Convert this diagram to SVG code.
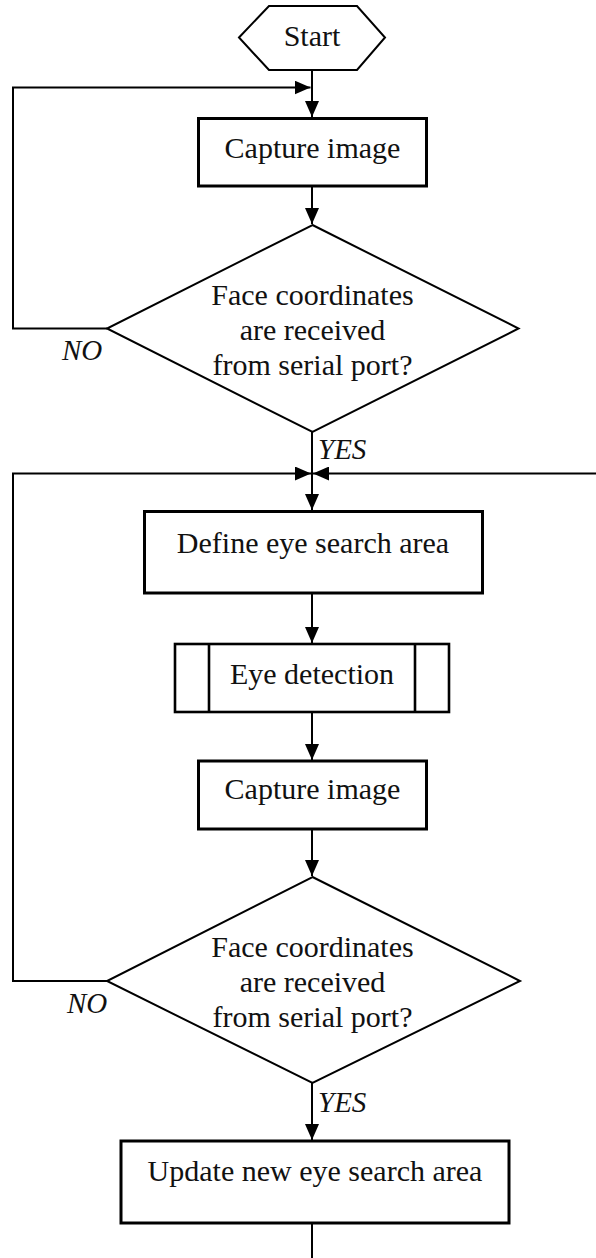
<svg xmlns="http://www.w3.org/2000/svg" width="596" height="1258" viewBox="0 0 596 1258">
<style>
.bg{fill:#fff}
.box{fill:#fff;stroke:#000;stroke-width:3}
.thin{fill:#fff;stroke:#000;stroke-width:2}
.sub{fill:#fff;stroke:#000;stroke-width:2.6}
.con{fill:none;stroke:#000;stroke-width:2}
.t{font-family:"Liberation Serif","Times New Roman",serif;font-size:30px;fill:#111;text-anchor:middle}
.lbl{font-family:"Liberation Serif","Times New Roman",serif;font-size:29px;font-style:italic;fill:#111}
</style>
<defs>
<marker id="ah" viewBox="0 0 16 14" refX="16" refY="7" markerWidth="16" markerHeight="14" markerUnits="userSpaceOnUse" orient="auto">
<path d="M0,0 L16,7 L0,14 Z" fill="#000"/>
</marker>
</defs>
<rect class="bg" x="0" y="0" width="596" height="1258"/>
<g id="connectors">
<path class="con" d="M312,70 V117" marker-end="url(#ah)"/>
<path class="con" d="M107,328.5 H13 V87.5 H310.5" marker-end="url(#ah)"/>
<path class="con" d="M312,186 V224" marker-end="url(#ah)"/>
<path class="con" d="M312,432 V510" marker-end="url(#ah)"/>
<path class="con" d="M107,981 H13 V473.5 H311" marker-end="url(#ah)"/>
<path class="con" d="M596,473.5 H313" marker-end="url(#ah)"/>
<path class="con" d="M312,593 V643" marker-end="url(#ah)"/>
<path class="con" d="M312,712 V760" marker-end="url(#ah)"/>
<path class="con" d="M312,829 V876" marker-end="url(#ah)"/>
<path class="con" d="M312,1083 V1140" marker-end="url(#ah)"/>
<path class="con" d="M312,1223 V1258"/>
<text class="lbl" x="62" y="360">NO</text>
<text class="lbl" x="318" y="459">YES</text>
<text class="lbl" x="67" y="1013">NO</text>
<text class="lbl" x="318" y="1112">YES</text>
</g>
<g id="start">
<polygon class="thin" points="239,37.5 269,6 357,6 385,37.5 357,70 269,70"/>
<text class="t" x="312" y="46">Start</text>
</g>
<g id="capture1">
<rect class="box" x="198.5" y="118.5" width="228" height="67.5"/>
<text class="t" x="312.5" y="158">Capture image</text>
</g>
<g id="decision1">
<polygon class="thin" points="312.5,225 518.5,328.5 312.5,432 107,328.5"/>
<text class="t" x="312.5" y="305">Face coordinates</text>
<text class="t" x="312.5" y="340">are received</text>
<text class="t" x="312.5" y="375">from serial port?</text>
</g>
<g id="define">
<rect class="box" x="144.5" y="511.5" width="338" height="81.5"/>
<text class="t" x="313" y="553">Define eye search area</text>
</g>
<g id="eyedetect">
<rect class="sub" x="175" y="644" width="274" height="68"/>
<line class="sub" x1="209" y1="644" x2="209" y2="712"/>
<line class="sub" x1="415" y1="644" x2="415" y2="712"/>
<text class="t" x="312" y="684">Eye detection</text>
</g>
<g id="capture2">
<rect class="box" x="198.5" y="761" width="228" height="68"/>
<text class="t" x="312.5" y="799">Capture image</text>
</g>
<g id="decision2">
<polygon class="thin" points="312.5,877 520,981 312.5,1083 107,981"/>
<text class="t" x="312.5" y="957">Face coordinates</text>
<text class="t" x="312.5" y="991.5">are received</text>
<text class="t" x="312.5" y="1027">from serial port?</text>
</g>
<g id="update">
<rect class="box" x="121" y="1141" width="388" height="82"/>
<text class="t" x="315" y="1181">Update new eye search area</text>
</g>
</svg>
